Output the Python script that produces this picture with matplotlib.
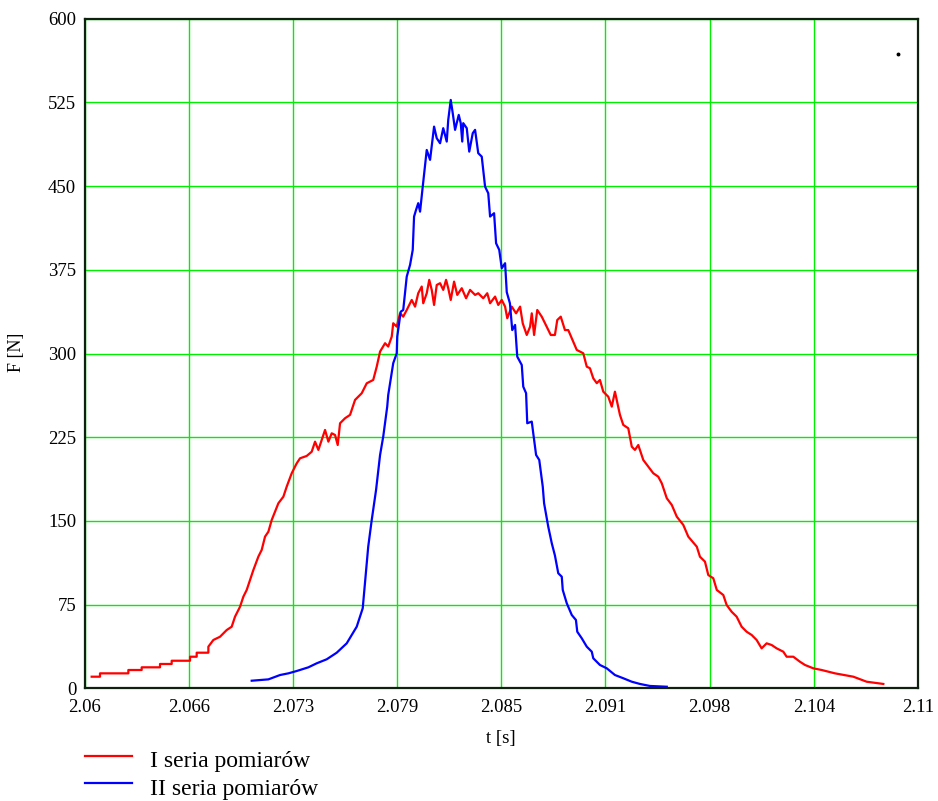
import matplotlib
matplotlib.use("Agg")
import matplotlib.pyplot as plt
from matplotlib.lines import Line2D

plt.rcParams['font.family'] = ['Liberation Serif', 'DejaVu Serif']

# Series I (red)
t1 = [2.06043, 2.06093, 2.06093, 2.06263, 2.06263, 2.06343, 2.06343, 2.06453, 2.06453, 2.06523,
      2.06523, 2.06633, 2.06633, 2.06673, 2.06673, 2.06743, 2.06743, 2.06773, 2.06813, 2.06853,
      2.06883, 2.06903, 2.06933, 2.06953, 2.06973, 2.06993, 2.07013, 2.07043, 2.07063, 2.07083,
      2.07103, 2.07123, 2.07143, 2.07163, 2.07193, 2.07213, 2.07243, 2.07273, 2.07293, 2.07333,
      2.07363, 2.07383, 2.07403, 2.07443, 2.07463, 2.07483, 2.07503, 2.07519, 2.07533, 2.07563,
      2.07593, 2.07623, 2.07663, 2.07693, 2.07732, 2.07753, 2.07773, 2.07803, 2.07822, 2.07843,
      2.07852, 2.07873, 2.07893, 2.07912, 2.07933, 2.07963, 2.07983, 2.08002, 2.08023, 2.08032,
      2.08053, 2.08068, 2.08083, 2.08097, 2.08113, 2.08133, 2.08152, 2.08169, 2.08182, 2.08197,
      2.08217, 2.08236, 2.08263, 2.08289, 2.08313, 2.08343, 2.08362, 2.08392, 2.08416, 2.08433,
      2.08463, 2.08482, 2.08503, 2.08523, 2.08536, 2.08563, 2.08589, 2.08613, 2.08629, 2.08653,
      2.08673, 2.08683, 2.08697, 2.08716, 2.08743, 2.08773, 2.08797, 2.08822, 2.08836, 2.08857,
      2.08882, 2.08902, 2.08923, 2.08953, 2.08992, 2.09013, 2.09032, 2.09052, 2.09073, 2.09092,
      2.09112, 2.09142, 2.09163, 2.09182, 2.09212, 2.09232, 2.09262, 2.09283, 2.09302, 2.09322,
      2.09352, 2.09382, 2.09412, 2.09442, 2.09463, 2.09493, 2.09523, 2.09553, 2.09592, 2.09622,
      2.09673, 2.09692, 2.09722, 2.09742, 2.09772, 2.09793, 2.09832, 2.09852, 2.09882, 2.09912,
      2.09942, 2.09972, 2.10002, 2.10032, 2.10062, 2.10092, 2.10122, 2.10152, 2.10192, 2.10212,
      2.10252, 2.10292, 2.10322, 2.10372, 2.10422, 2.10502, 2.10612, 2.10692, 2.10792]
F1 = [10.4, 10.4, 13.4, 13.4, 16.4, 16.4, 18.8, 18.8, 21.8, 21.8,
      24.7, 24.7, 28.3, 28.3, 31.9, 31.9, 37.3, 43.3, 46.2, 52.2,
      55.2, 64.2, 73.1, 82.1, 88.1, 97.0, 106.0, 118.0, 124.0, 135.9,
      140.3, 150.8, 158.3, 165.8, 171.7, 180.7, 192.7, 201.6, 206.1, 208.2,
      212.0, 221.0, 213.6, 231.5, 221.0, 228.5, 227.0, 218.0, 237.5, 242.0,
      245.0, 258.4, 264.4, 273.3, 276.3, 288.2, 301.7, 309.2, 306.2, 315.1,
      327.1, 324.1, 336.1, 333.0, 339.0, 348.0, 342.0, 354.0, 360.0, 345.0,
      354.0, 366.0, 357.0, 343.5, 361.4, 363.0, 357.0, 366.0, 358.5, 348.0,
      364.4, 352.5, 358.5, 349.5, 357.0, 352.5, 354.0, 349.5, 354.0, 345.0,
      351.0, 343.5, 348.0, 342.0, 331.6, 342.0, 336.0, 342.0, 327.0, 316.6,
      324.0, 336.0, 316.6, 339.0, 333.0, 324.0, 316.6, 316.6, 330.0, 333.0,
      321.0, 321.0, 313.7, 303.2, 300.2, 288.2, 286.8, 277.8, 273.4, 276.3,
      265.8, 261.3, 252.4, 265.8, 245.0, 236.0, 233.0, 216.5, 213.6, 218.0,
      204.6, 198.6, 192.7, 189.6, 183.7, 170.3, 164.3, 153.8, 146.4, 135.9,
      126.9, 117.9, 113.5, 101.5, 98.6, 88.1, 83.6, 74.7, 68.6, 64.2,
      55.2, 50.7, 47.8, 43.3, 35.8, 40.3, 38.8, 35.8, 32.8, 28.3,
      28.3, 23.8, 20.9, 17.9, 16.4, 13.4, 10.4, 5.9, 3.9]

# Series II (blue)
t2 = [2.07003, 2.07103, 2.07173, 2.07223, 2.07273, 2.07343, 2.07393, 2.07453, 2.07513, 2.07573,
      2.07633, 2.07669, 2.07677, 2.07702, 2.07723, 2.07749, 2.07773, 2.07792, 2.07816, 2.07822,
      2.07852, 2.07873, 2.07876, 2.07897, 2.07912, 2.07933, 2.07953, 2.07969, 2.07977, 2.07989,
      2.08002, 2.08013, 2.08029, 2.08053, 2.08073, 2.08097, 2.08113, 2.08133, 2.08152, 2.08173,
      2.08182, 2.08197, 2.08209, 2.08223, 2.08245, 2.08257, 2.08266, 2.08272, 2.08293, 2.08308,
      2.08329, 2.08343, 2.08362, 2.08383, 2.08403, 2.08422, 2.08433, 2.08457, 2.08469, 2.08488,
      2.08503, 2.08523, 2.08533, 2.08552, 2.08566, 2.08583, 2.08596, 2.08623, 2.08632, 2.08649,
      2.08656, 2.08683, 2.08692, 2.08709, 2.08728, 2.08749, 2.08757, 2.08782, 2.08803, 2.08822,
      2.08842, 2.08863, 2.08869, 2.08893, 2.08923, 2.08948, 2.08956, 2.08983, 2.09013, 2.09043,
      2.09052, 2.09092, 2.09133, 2.09182, 2.09232, 2.09283, 2.09332, 2.09392, 2.09493]
F2 = [6.8, 8.0, 11.9, 13.4, 15.5, 18.8, 22.4, 26.0, 31.9, 40.3,
      55.2, 71.7, 85.1, 126.9, 150.8, 177.7, 209.0, 225.5, 252.4, 262.9,
      291.3, 300.2, 315.1, 337.5, 339.0, 368.9, 379.4, 392.8, 422.7, 428.7,
      434.7, 427.1, 449.5, 482.4, 473.5, 503.3, 492.9, 488.4, 501.9, 489.9,
      509.3, 527.2, 515.3, 500.4, 513.8, 506.4, 489.9, 506.4, 501.9, 480.9,
      497.4, 500.4, 479.5, 476.4, 449.5, 443.6, 422.7, 425.7, 398.8, 392.8,
      376.4, 380.9, 355.0, 345.0, 321.0, 325.6, 297.2, 289.7, 270.3, 264.4,
      237.5, 239.0, 228.5, 209.1, 204.6, 180.7, 165.8, 144.8, 130.0, 119.0,
      103.1, 100.0, 88.1, 76.2, 65.7, 61.2, 50.7, 44.8, 37.3, 32.8,
      26.9, 20.9, 17.9, 11.9, 9.0, 5.9, 3.9, 2.1, 1.4]

xticks = [2.06 + k * 0.00625 for k in range(9)]
xtick_labels = ["2.06", "2.066", "2.073", "2.079", "2.085", "2.091", "2.098", "2.104", "2.11"]
yticks = [0, 75, 150, 225, 300, 375, 450, 525, 600]
labels = ["I seria pomiarów", "II seria pomiarów"]
dot_t, dot_F = [2.1088], [568.5]

fig = plt.figure(figsize=(9.38, 8.01), dpi=100)
ax = fig.add_axes([84.5 / 938, 1 - 688.3 / 801, (918 - 84.5) / 938, (688.3 - 18.7) / 801])

ax.set_xlim(2.06, 2.11)
ax.set_ylim(0, 600)
ax.set_xticks(xticks)
ax.set_xticklabels(xtick_labels)
ax.set_yticks(yticks)
ax.grid(True, color='#00ee00', linewidth=1.0)
ax.set_axisbelow(True)
ax.tick_params(length=0, labelsize=13.5)
ax.tick_params(axis='x', pad=8)
ax.tick_params(axis='y', pad=6)
for s in ax.spines.values():
    s.set_linewidth(1.6)
    s.set_color('#102010')

l1, = ax.plot(t1, F1, color='#ff0000', linewidth=1.6, label=labels[0])
l2, = ax.plot(t2, F2, color='#0000ff', linewidth=1.6, label=labels[1])
ax.plot(dot_t, dot_F, 'o', color='black', markersize=1.8)

ax.set_xlabel("t [s]", fontsize=13.5)
ax.xaxis.set_label_coords(0.5, -0.0757)
ax.xaxis.label.set_va('center')
ax.set_ylabel("F [N]", fontsize=13)
ax.yaxis.set_label_coords((16.7 - 84.5) / 833.5, (688.3 - 352) / 669.6)
ax.yaxis.label.set_va('center')

# legend below the plot
for line, yl, yb in [(l1, 755.7, 767.3), (l2, 783.3, 795.0)]:
    fig.add_artist(Line2D([85 / 938, 132 / 938], [1 - yl / 801, 1 - yl / 801],
                          color=line.get_color(), linewidth=1.6, transform=fig.transFigure))
    fig.text(150 / 938, 1 - yb / 801, line.get_label(), fontsize=17, va='baseline', ha='left')

fig.savefig("out.png", dpi=100)
